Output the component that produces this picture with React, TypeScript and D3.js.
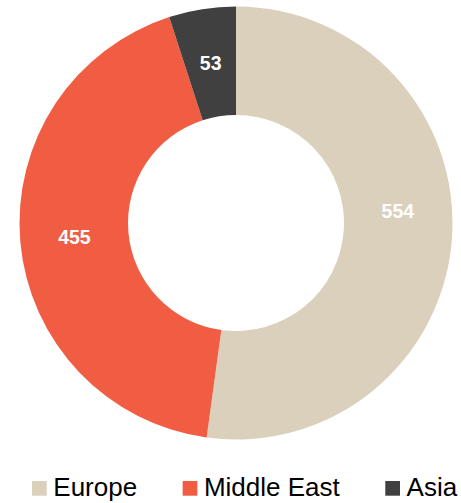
import React, { useEffect, useRef } from "react";
import * as d3 from "d3";

const categories = ["Europe", "Middle East", "Asia"];
const values = [554, 455, 53];
const colors = ["#dbd0bc", "#f15d42", "#404040"];

const W = 461;
const H = 503;
const CX = 236;
const CY = 223;
const R_OUT = 216.5;
const R_IN = 108;
// label nudges (dy in px) to match reference placement
const labelDy = [-23, 0, 0];

export default function App() {
  const ref = useRef<SVGSVGElement | null>(null);

  useEffect(() => {
    const svg = d3.select(ref.current);
    svg.selectAll("*").remove();

    const pie = d3
      .pie<number>()
      .sort(null)
      .value((d) => d);
    const arcs = pie(values);
    const arc = d3.arc<d3.PieArcDatum<number>>().innerRadius(R_IN).outerRadius(R_OUT);

    const g = svg.append("g").attr("transform", `translate(${CX},${CY})`);
    g.selectAll("path")
      .data(arcs)
      .join("path")
      .attr("d", arc as any)
      .attr("fill", (_, i) => colors[i]);

    g.selectAll("text")
      .data(arcs)
      .join("text")
      .attr("x", (d) => arc.centroid(d)[0])
      .attr("y", (d, i) => arc.centroid(d)[1] + labelDy[i])
      .attr("dy", "0.36em")
      .attr("text-anchor", "middle")
      .attr("fill", "#ffffff")
      .attr("font-family", "Liberation Sans, Arial, sans-serif")
      .attr("font-weight", "bold")
      .attr("font-size", 19.5)
      .text((d) => String(d.data));

    // legend
    const lg = svg.append("g");
    const sq = 14.7;
    const gapSqText = 6.6;
    const gapItems = 45.5;
    let x = 32;
    const baseline = 495.5;
    categories.forEach((c, i) => {
      lg.append("rect")
        .attr("x", x)
        .attr("y", 481)
        .attr("width", sq)
        .attr("height", sq)
        .attr("fill", colors[i]);
      const t = lg
        .append("text")
        .attr("x", x + sq + gapSqText)
        .attr("y", baseline)
        .attr("font-family", "Liberation Sans, Arial, sans-serif")
        .attr("font-size", 26)
        .attr("fill", "#000000")
        .text(c);
      const w = (t.node() as SVGTextElement).getComputedTextLength();
      x = x + sq + gapSqText + w + gapItems;
    });
  }, []);

  return (
    <svg
      ref={ref}
      width={W}
      height={H}
      style={{ position: "absolute", left: 0, top: 0, background: "#ffffff" }}
    />
  );
}
